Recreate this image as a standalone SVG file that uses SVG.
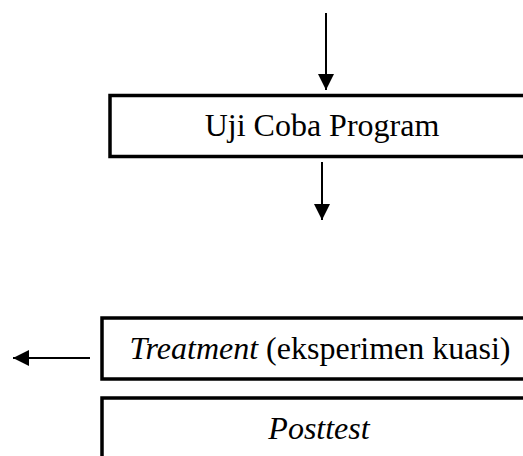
<svg xmlns="http://www.w3.org/2000/svg" width="523" height="456" viewBox="0 0 523 456">
<style>
.box{fill:#fff;stroke:#000;stroke-width:3.5}
.lbl{font-family:"Liberation Serif","Times New Roman",serif;font-size:32px;fill:#000;text-anchor:middle}
.it{font-style:italic}
.conn{stroke:#000;stroke-width:2;fill:none}
</style>
<defs>
<marker id="ah" viewBox="0 0 10 10" refX="10" refY="5" markerWidth="8" markerHeight="8" markerUnits="strokeWidth" orient="auto">
<path d="M0,0 L10,5 L0,10 Z" fill="#000"/>
</marker>
</defs>
<rect width="523" height="456" fill="#fff"/>
<g id="connectors">
<line class="conn" x1="326" y1="13" x2="326" y2="90" marker-end="url(#ah)"/>
<line class="conn" x1="322" y1="162" x2="322" y2="220" marker-end="url(#ah)"/>
<line class="conn" x1="90" y1="358" x2="13" y2="358" marker-end="url(#ah)"/>
</g>
<g id="uji-coba">
<rect class="box" x="110" y="95.5" width="430" height="61"/>
<text class="lbl" x="322" y="136">Uji Coba Program</text>
</g>
<g id="treatment">
<rect class="box" x="102" y="318" width="440" height="61"/>
<text class="lbl" x="320" y="359"><tspan class="it">Treatment</tspan> (eksperimen kuasi)</text>
</g>
<g id="posttest">
<rect class="box" x="102" y="398" width="440" height="80"/>
<text class="lbl it" x="319" y="439">Posttest</text>
</g>
</svg>
